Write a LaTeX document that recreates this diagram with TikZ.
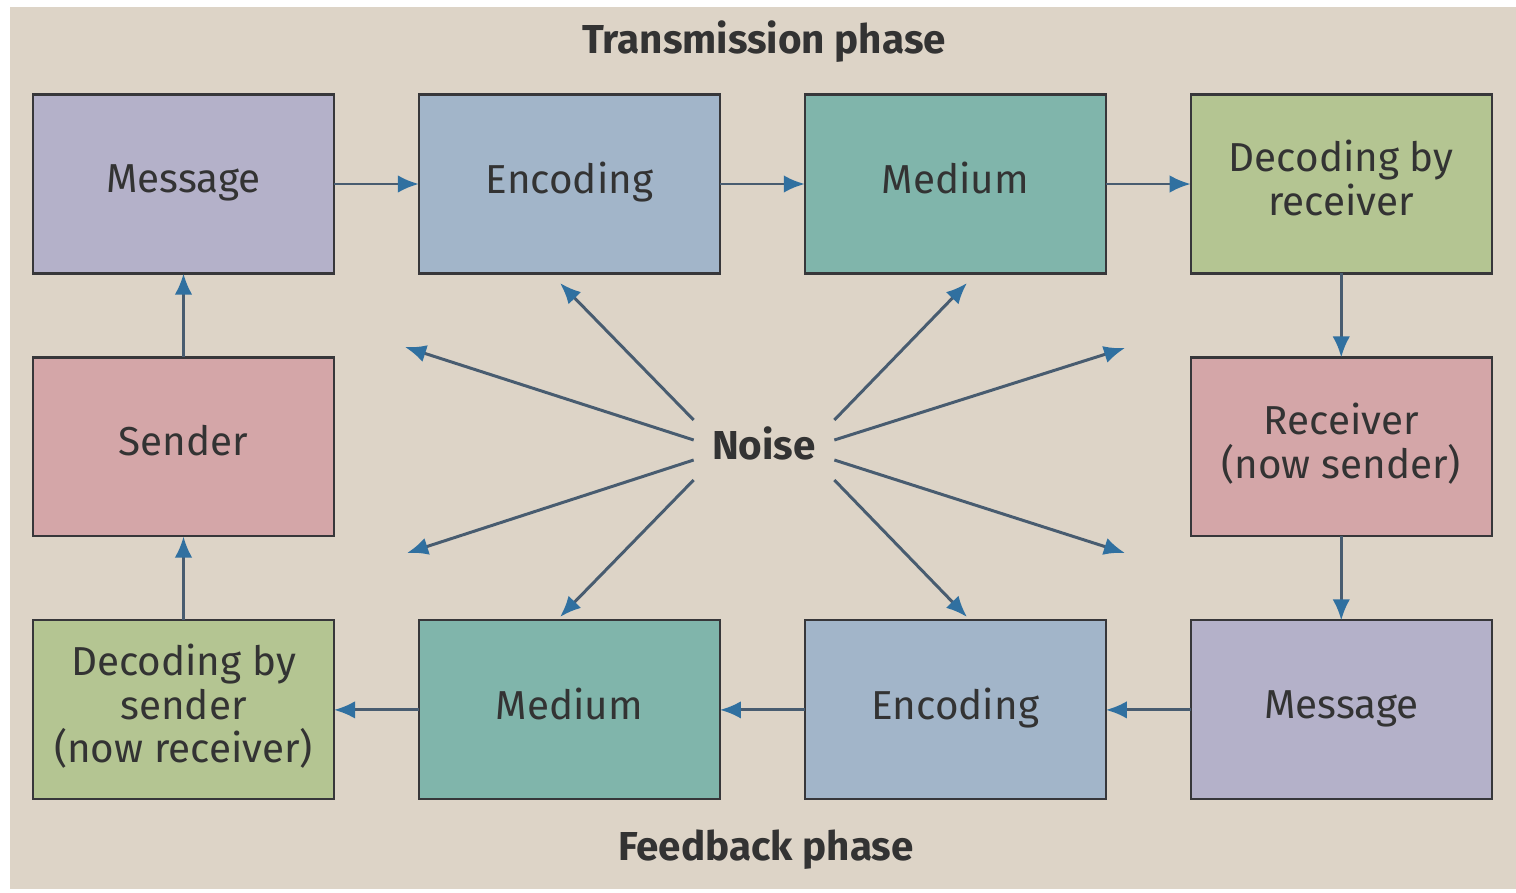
\documentclass[tikz,border=0pt]{standalone}
\usepackage{fontspec}
\setmainfont{Fira Sans}
\usetikzlibrary
  {
    arrows.meta,  % arrow tips with colour
    positioning,  % place nodes relative to other nodes
  }

\definecolor{paper}{RGB}{221,212,199}
\definecolor{boxline}{RGB}{55,55,58}
\definecolor{linegrey}{RGB}{72,92,112}
\definecolor{tipblue}{RGB}{48,112,160}
\definecolor{msgcol}{RGB}{180,177,201}
\definecolor{enccol}{RGB}{162,181,201}
\definecolor{medcol}{RGB}{128,181,171}
\definecolor{deccol}{RGB}{180,197,146}
\definecolor{sndcol}{RGB}{212,166,168}

\begin{document}
\begin{tikzpicture}[x=0.02cm,y=-0.02cm,node distance=1.68cm and 1.7cm,
    stage/.style={draw=boxline, line width=1.2pt, outer sep=0pt,
      minimum width=6.02cm, minimum height=3.58cm, align=center,
      text=black!80, font=\fontsize{23}{25}\selectfont,
      execute at begin node=\strut, execute at end node=\strut},
    flow/.style={draw=linegrey, line width=1.7pt,
      -{Latex[length=12pt,width=10pt,color=tipblue]}},
    heading/.style={font=\bfseries\fontsize{23}{26}\selectfont, text=black!80}]
    \fill[white] (0,0) rectangle (1516,893);
    \fill[paper] (10,7) rectangle (1516,889);
    \useasboundingbox (0,0) rectangle (1516,893);

    % transmission row
    \node (msgA) [stage, fill=msgcol] at (183.5,184) {Message};
    \node (encA) [stage, fill=enccol, right=of msgA] {Encoding};
    \node (medA) [stage, fill=medcol, right=of encA] {Medium};
    \node (decA) [stage, fill=deccol, right=of medA] {Decoding by\\receiver};
    % middle
    \node (sender)   [stage, fill=sndcol, below=of msgA] {Sender};
    \node (receiver) [stage, fill=sndcol, below=of decA] {Receiver\\(now sender)};
    % feedback row
    \node (msgB) [stage, fill=msgcol, below=of receiver] {Message};
    \node (encB) [stage, fill=enccol, left=of msgB] {Encoding};
    \node (medB) [stage, fill=medcol, left=of encB] {Medium};
    \node (decB) [stage, fill=deccol, left=of medB] {Decoding by\\sender\\(now receiver)};

    \node (transmission) [heading] at (764,42) {Transmission phase};
    \node (feedback) [heading] at (766,850) {Feedback phase};
    \node (noise) [heading, minimum width=2.8cm, minimum height=1.2cm] at (764,443) {Noise};

    \draw[flow] (msgA) -- (encA);
    \draw[flow] (encA) -- (medA);
    \draw[flow] (medA) -- (decA);
    \draw[flow] (decA) -- (receiver);
    \draw[flow] (receiver) -- (msgB);
    \draw[flow] (msgB) -- (encB);
    \draw[flow] (encB) -- (medB);
    \draw[flow] (medB) -- (decB);
    \draw[flow] (decB) -- (sender);
    \draw[flow] (sender) -- (msgA);

    % noise rays
    \coordinate (nUL) at (405,347);
    \coordinate (nUA) at (560,283);
    \coordinate (nUB) at (967,283);
    \coordinate (nUR) at (1125,348);
    \coordinate (nDL) at (407,553);
    \coordinate (nDA) at (560,617);
    \coordinate (nDB) at (967,617);
    \coordinate (nDR) at (1125,553);
    \foreach \side/\dy/\tip in {west/23/nUA, west/3/nUL, west/-17/nDL, west/-37/nDA,
                                east/23/nUB, east/3/nUR, east/-17/nDR, east/-37/nDB}
      \draw[flow] ([yshift=\dy*0.02cm]noise.\side) -- (\tip);
\end{tikzpicture}
\end{document}
